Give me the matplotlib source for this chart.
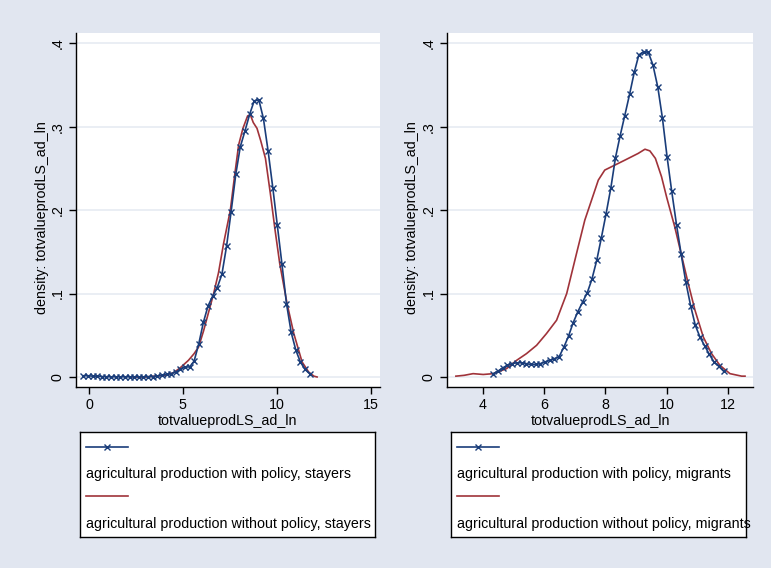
import matplotlib
matplotlib.use("Agg")
import matplotlib.pyplot as plt

plt.rcParams['font.family'] = ['Liberation Sans', 'DejaVu Sans']
plt.rcParams['font.size'] = 10.3

# stayers, with policy (kdensity grid, 50 points)
stay_pol_x = [-0.30, -0.05, 0.19, 0.44, 0.68, 0.93, 1.18, 1.42, 1.67, 1.91,
              2.16, 2.41, 2.65, 2.90, 3.14, 3.39, 3.64, 3.88, 4.13, 4.37,
              4.62, 4.87, 5.11, 5.36, 5.60, 5.85, 6.10, 6.34, 6.59, 6.83,
              7.08, 7.33, 7.57, 7.82, 8.06, 8.31, 8.56, 8.80, 9.05, 9.29,
              9.54, 9.79, 10.03, 10.28, 10.52, 10.77, 11.02, 11.26, 11.51, 11.75]
stay_pol_y = [0.0015, 0.0015, 0.001, 0.001, 0.0005, 0.0003, 0.0002, 0.0002, 0.0002, 0.0002,
              0.0002, 0.0002, 0.0002, 0.0002, 0.0003, 0.0005, 0.001, 0.002, 0.003, 0.004,
              0.006, 0.009, 0.012, 0.012, 0.019, 0.040, 0.066, 0.085, 0.097, 0.107,
              0.123, 0.157, 0.198, 0.243, 0.276, 0.295, 0.315, 0.331, 0.332, 0.310,
              0.271, 0.227, 0.182, 0.135, 0.088, 0.0535, 0.032, 0.018, 0.009, 0.004]

# stayers, without policy
stay_nopol_x = [2.35, 3.0, 3.5, 4.0, 4.5, 4.86, 5.3, 5.6, 5.84, 6.1, 6.4, 6.64, 6.9,
                7.17, 7.53, 7.75, 7.97, 8.2, 8.45, 8.6, 8.75, 8.95, 9.15, 9.4, 9.66,
                9.9, 10.16, 10.55, 10.91, 11.35, 11.7, 11.98, 12.15]
stay_nopol_y = [0.0, 0.0, 0.001, 0.002, 0.005, 0.011, 0.02, 0.028, 0.036, 0.055, 0.08,
                0.10, 0.125, 0.16, 0.2, 0.24, 0.278, 0.298, 0.313, 0.314, 0.305, 0.298,
                0.283, 0.262, 0.22, 0.178, 0.136, 0.088, 0.052, 0.018, 0.006, 0.001, 0.0]

# migrants, with policy
mig_pol_x = [4.35, 4.50, 4.66, 4.81, 4.96, 5.12, 5.27, 5.42, 5.57, 5.73,
             5.88, 6.03, 6.19, 6.34, 6.49, 6.65, 6.80, 6.95, 7.10, 7.26,
             7.41, 7.56, 7.72, 7.87, 8.02, 8.18, 8.33, 8.48, 8.63, 8.79,
             8.94, 9.09, 9.25, 9.40, 9.55, 9.71, 9.86, 10.01, 10.16, 10.32,
             10.47, 10.62, 10.78, 10.93, 11.08, 11.24, 11.39, 11.54, 11.69, 11.85]
mig_pol_y = [0.004, 0.007, 0.011, 0.014, 0.016, 0.017, 0.017, 0.016, 0.015, 0.015,
             0.016, 0.018, 0.020, 0.022, 0.024, 0.036, 0.049, 0.065, 0.078, 0.090,
             0.101, 0.117, 0.140, 0.167, 0.195, 0.227, 0.263, 0.289, 0.313, 0.339,
             0.365, 0.386, 0.390, 0.389, 0.374, 0.347, 0.310, 0.264, 0.223, 0.182,
             0.147, 0.114, 0.085, 0.062, 0.048, 0.037, 0.027, 0.018, 0.013, 0.007]

# migrants, without policy
mig_nopol_x = [3.13, 3.4, 3.69, 4.02, 4.35, 4.78, 5.11, 5.43, 5.76, 6.08, 6.41, 6.74,
               7.06, 7.33, 7.55, 7.77, 7.98, 8.2, 8.64, 9.07, 9.29, 9.45, 9.63, 9.83,
               10.0, 10.26, 10.48, 10.7, 10.92, 11.19, 11.46, 11.73, 12.06, 12.44, 12.55]
mig_nopol_y = [0.001, 0.002, 0.004, 0.003, 0.004, 0.010, 0.020, 0.028, 0.038, 0.052,
               0.068, 0.100, 0.148, 0.188, 0.212, 0.236, 0.248, 0.252, 0.26, 0.268,
               0.273, 0.271, 0.262, 0.24, 0.215, 0.18, 0.146, 0.112, 0.08, 0.048,
               0.028, 0.014, 0.004, 0.001, 0.001]

y_ticks = [0, 0.1, 0.2, 0.3, 0.4]
y_ticklabels = ['0', '.1', '.2', '.3', '.4']
xlabel = 'totvalueprodLS_ad_ln'
ylabel = 'density: totvalueprodLS_ad_ln'

navy = '#1a3d7a'
maroon = '#a0333a'
bg = '#e1e6f0'
grid_col = '#e6ebf2'

W, H = 771, 568
fig = plt.figure(figsize=(W / 100, H / 100), dpi=100, facecolor=bg)


def px_axes(x0, y0, x1, y1):
    # pixel box (top-left origin) -> figure axes
    return fig.add_axes([x0 / W, 1 - y1 / H, (x1 - x0) / W, (y1 - y0) / H])


def draw_panel(box, xp, yp, xr, yr, xlim, xticks, group):
    ax = px_axes(*box)
    ax.set_facecolor('white')
    for yt in y_ticks:
        ax.axhline(yt, color=grid_col, lw=1.2, zorder=0)
    ax.plot(xp, yp, color=navy, lw=1.2, marker='x', ms=4, mew=1.0, zorder=3)
    ax.plot(xr, yr, color=maroon, lw=1.2, zorder=2)
    ax.set_xlim(*xlim)
    ax.set_ylim(-0.012, 0.4123)
    ax.set_xticks(xticks)
    ax.set_xticklabels([str(t) for t in xticks])
    ax.set_yticks(y_ticks)
    ax.set_yticklabels(y_ticklabels, rotation=90, va='center')
    ax.tick_params(direction='out', length=5, width=1, pad=3)
    for s in ['top', 'right']:
        ax.spines[s].set_visible(False)
    for s in ['left', 'bottom']:
        ax.spines[s].set_linewidth(1.0)
    ax.set_xlabel(xlabel, labelpad=1)
    ax.set_ylabel(ylabel)
    ax.yaxis.set_label_coords(-0.09, 0.48)

    # Stata style legend box under the plot
    lx0 = box[0] + 4
    lg = px_axes(lx0, 432, lx0 + 295, 537)
    lg.set_xlim(0, 295)
    lg.set_ylim(105, 0)
    lg.set_xticks([])
    lg.set_yticks([])
    lg.set_facecolor('white')
    for s in lg.spines.values():
        s.set_linewidth(1.0)
    lg.plot([6, 48], [15, 15], color=navy, lw=1.2)
    lg.plot([27], [15], color=navy, marker='x', ms=4, mew=1.0)
    lg.text(6, 42, 'agricultural production with policy, ' + group, va='center', ha='left')
    lg.plot([6, 48], [64, 64], color=maroon, lw=1.2)
    lg.text(6, 92, 'agricultural production without policy, ' + group, va='center', ha='left')
    return ax


draw_panel((76, 33, 380, 387), stay_pol_x, stay_pol_y, stay_nopol_x, stay_nopol_y,
           (-0.69, 15.5), [0, 5, 10, 15], 'stayers')
draw_panel((447, 33, 753, 387), mig_pol_x, mig_pol_y, mig_nopol_x, mig_nopol_y,
           (2.84, 12.81), [4, 6, 8, 10, 12], 'migrants')

fig.savefig('out.png', dpi=100, facecolor=bg)
